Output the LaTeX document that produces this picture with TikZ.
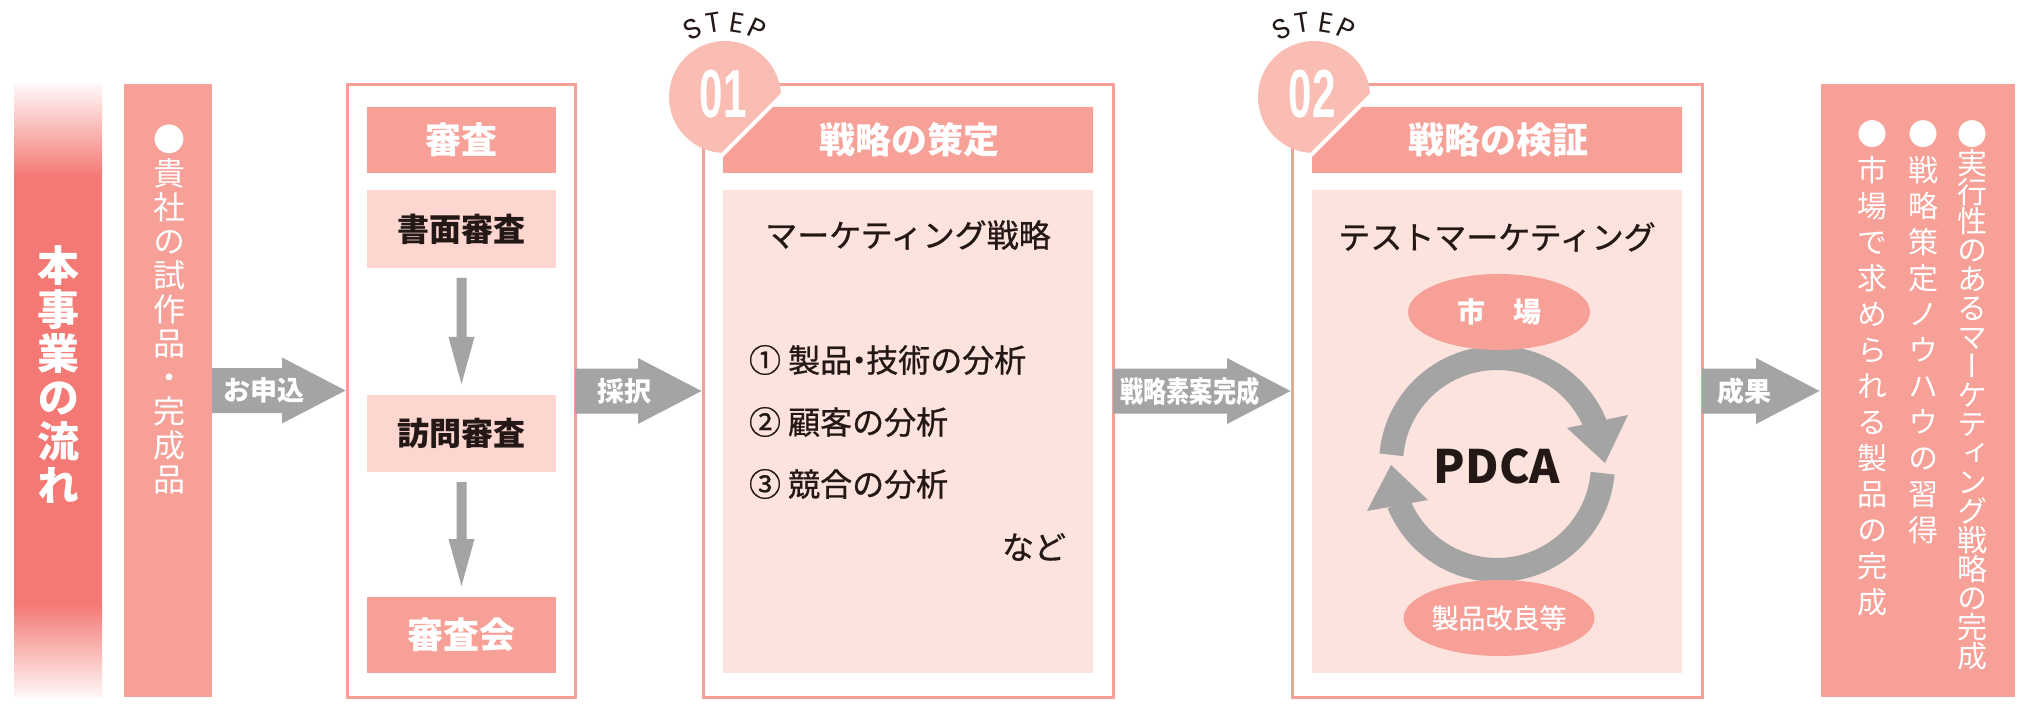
\documentclass[tikz,border=0pt]{standalone}
\usepackage{fontspec}
\usepackage{graphicx}
\setmainfont{Noto Sans CJK JP}
\newfontfamily\vjp{Noto Sans CJK JP}[RawFeature=+vert]
\newfontfamily\jpbody{Noto Sans CJK JP}[FakeBold=0.8]
\newfontfamily\stepfont{Poppins}
\newfontfamily\numfont{Liberation Sans}
\usetikzlibrary{arrows.meta,shapes.geometric,calc}
\definecolor{pk}{HTML}{F6A098}
\definecolor{pklight}{HTML}{FDD6CF}
\definecolor{pkpale}{HTML}{FDE3DE}
\definecolor{pkcirc}{HTML}{FABDB3}
\definecolor{barc}{HTML}{F47873}
\definecolor{gr}{HTML}{A4A4A4}
\definecolor{ink}{HTML}{231815}
\newcommand\tightls{\lineskiplimit=-20pt\relax}
\newcommand\ndot{\kern-0.28em・\kern-0.28em}
\newcommand\flowarrow[5]{%
  \fill[gr] let \p1=(#1), \p2=(#2) in
    (\x1,\y1-22.5pt) -- (\x2-65pt,\y1-22.5pt) -- (\x2-65pt,\y1-33pt) -- (\x2-1.5pt,\y1)
    -- (\x2-65pt,\y1+33pt) -- (\x2-65pt,\y1+22.5pt) -- (\x1,\y1+22.5pt) -- cycle;
  \node[arrlab] (#5) at ($(#1)!#3!(#2)$) {#4};}
\newcommand\dnarrow[2]{%
  \fill[gr] let \p1=(#1.south), \p2=(#2.north) in
    (\x1-5pt,\y1-10pt) -- (\x1-5pt,\y2+58pt) -- (\x1-13pt,\y2+58pt) -- (\x1,\y2+11pt)
    -- (\x1+13pt,\y2+58pt) -- (\x1+5pt,\y2+58pt) -- (\x1+5pt,\y1-10pt) -- cycle;}
\begin{document}
\begin{tikzpicture}[x=1pt,y=-1pt,
  every node/.style={inner sep=0pt,outer sep=0pt},
  panel/.style={draw=pk,line width=3pt,fill=white,anchor=north west},
  pinkbox/.style={fill=pk,anchor=north west},
  lightbox/.style={fill=pklight,anchor=north west},
  palebox/.style={fill=pkpale,anchor=north west},
  vt/.style={align=center,text=white},
  hd/.style={text=white,font=\bfseries\fontsize{36}{40}\selectfont},
  body/.style={text=ink,font=\jpbody\fontsize{32}{36}\selectfont},
  bodyb/.style={text=ink,font=\bfseries\fontsize{32}{36}\selectfont},
  arrlab/.style={text=white,font=\bfseries\fontsize{27}{30}\selectfont},
  steplet/.style={text=ink,font=\stepfont\fontsize{28}{28}\selectfont},
  num/.style={text=white,font=\numfont\bfseries\fontsize{68}{68}\selectfont},
  oval/.style={ellipse,fill=pk,minimum width=182pt,minimum height=76pt,text=white},
  ring/.style={draw=gr,line width=24pt}
]
\useasboundingbox (0,0) rectangle (2031,708);
\fill[white] (0,0) rectangle (2031,708);

% left flow bar
\shade[top color=barc!6, bottom color=barc] (14,85) rectangle (102,176);
\fill[barc] (14,175) rectangle (102,604);
\shade[top color=barc, bottom color=barc!6] (14,603) rectangle (102,697);
\node[vt,font=\vjp\bfseries\fontsize{42}{44}\selectfont] (flowtxt) at (58,375) {本\\事\\業\\の\\流\\れ};

% applicant box
\node[pinkbox,minimum width=88pt,minimum height=613pt] (box2) at (124,84) {};
\node[vt,font=\vjp\fontsize{32}{34}\selectfont] (box2txt) at (169,309) {●\\貴\\社\\の\\試\\作\\品\\・\\完\\成\\品};

% review box
\node[panel,minimum width=228pt,minimum height=612pt] (box3) at (347,85) {};
\node[pinkbox,minimum width=189pt,minimum height=66pt,hd] (shinsa) at (367,107) {審査};
\node[lightbox,minimum width=189pt,minimum height=78pt,bodyb] (shomen) at (367,190) {書面審査};
\node[lightbox,minimum width=189pt,minimum height=77pt,bodyb] (houmon) at (367,395) {訪問審査};
\node[pinkbox,minimum width=189pt,minimum height=76pt,hd] (shinsakai) at (367,597) {審査会};
\dnarrow{shomen}{houmon}
\dnarrow{houmon}{shinsakai}

% STEP 01
\node[panel,minimum width=410pt,minimum height=612pt] (s1) at (703,85) {};
\begin{scope}
  \clip (600,0) -- (874,0) -- (600,274) -- cycle;
  \fill[pkcirc] (725,97) circle[radius=56];
\end{scope}
\fill[pk] (723,157) -- (773,107) -- (1093,107) -- (1093,173) -- (723,173) -- cycle;
\node[hd] (s1h) at (909,140) {戦略の策定};
\node[palebox,minimum width=370pt,minimum height=483pt] (s1c) at (723,190) {};
\node[num] (s1num) at (723,94) {\scalebox{0.62}[1]{01}};
\node[steplet,rotate=26] (s1a) at (692.6,29.5) {S};
\node[steplet,rotate=9] (s1b) at (713.3,22.9) {T};
\node[steplet,rotate=-9] (s1cc) at (736.7,22.9) {E};
\node[steplet,rotate=-25] (s1d) at (756.7,29.0) {P};
\node[body] (mk) at (908,235) {マーケティング戦略};
\node[body,anchor=west] (a1) at (749,360) {① 製品\ndot 技術の分析};
\node[body,anchor=west] (a2) at (749,422) {② 顧客の分析};
\node[body,anchor=west] (a3) at (749,484) {③ 競合の分析};
\node[body,anchor=east] (nado) at (1066,547) {など};

% STEP 02
\node[panel,minimum width=410pt,minimum height=612pt] (s2) at (1292,85) {};
\begin{scope}
  \clip (1189,0) -- (1463,0) -- (1189,274) -- cycle;
  \fill[pkcirc] (1314,97) circle[radius=56];
\end{scope}
\fill[pk] (1312,157) -- (1362,107) -- (1682,107) -- (1682,173) -- (1312,173) -- cycle;
\node[hd] (s2h) at (1498,140) {戦略の検証};
\node[palebox,minimum width=370pt,minimum height=483pt] (s2c) at (1312,190) {};
\node[num] (s2num) at (1312,94) {\scalebox{0.62}[1]{02}};
\node[steplet,rotate=26] (s2a) at (1281.6,29.5) {S};
\node[steplet,rotate=9] (s2b) at (1302.3,22.9) {T};
\node[steplet,rotate=-9] (s2cc) at (1325.7,22.9) {E};
\node[steplet,rotate=-25] (s2d) at (1345.7,29.0) {P};
\node[body] (tm) at (1497,237) {テストマーケティング};
% PDCA ring
\draw[ring] (1391.4,454.8) arc[start angle=-175,end angle=-22,radius=106];
\draw[ring] (1602.6,473.2) arc[start angle=5,end angle=158,radius=106];
\fill[gr] (1567,428) -- (1628,415) -- (1605,463) -- cycle;
\fill[gr] (1428,500) -- (1367,511) -- (1391,465) -- cycle;
\node[oval,font=\bfseries\fontsize{28}{30}\selectfont] (ichiba) at (1499,312) {市　場};
\node[oval,font=\jpbody\fontsize{27}{30}\selectfont] (kairyo) at (1499,618) {製品改良等};
\node[text=ink,font=\bfseries\fontsize{46}{50}\selectfont] (pdca) at (1497,466) {PDCA};

% result box
\node[pinkbox,minimum width=194pt,minimum height=613pt] (rbox) at (1821,84) {};
\node[vt,font=\vjp\fontsize{30}{29}\selectfont\tightls] (r1) at (1972,395) {●\\実\\行\\性\\の\\あ\\る\\マ\\ー\\ケ\\テ\\ィ\\ン\\グ\\戦\\略\\の\\完\\成};
\node[vt,font=\vjp\fontsize{30}{36}\selectfont] (r2) at (1923,332) {●\\戦\\略\\策\\定\\ノ\\ウ\\ハ\\ウ\\の\\習\\得};
\node[vt,font=\vjp\fontsize{30}{36}\selectfont] (r3) at (1872,368) {●\\市\\場\\で\\求\\め\\ら\\れ\\る\\製\\品\\の\\完\\成};

% flow arrows
\flowarrow{box2.east}{box3.west}{0.385}{お申込}{l1}
\flowarrow{box3.east}{s1.west}{0.39}{採択}{l2}
\flowarrow{s1.east}{s2.west}{0.43}{\scalebox{0.8}[1]{\fontsize{29}{30}\selectfont 戦略素案完成}}{l3}
\flowarrow{s2.east}{rbox.west}{0.36}{成果}{l4}
\end{tikzpicture}
\end{document}
